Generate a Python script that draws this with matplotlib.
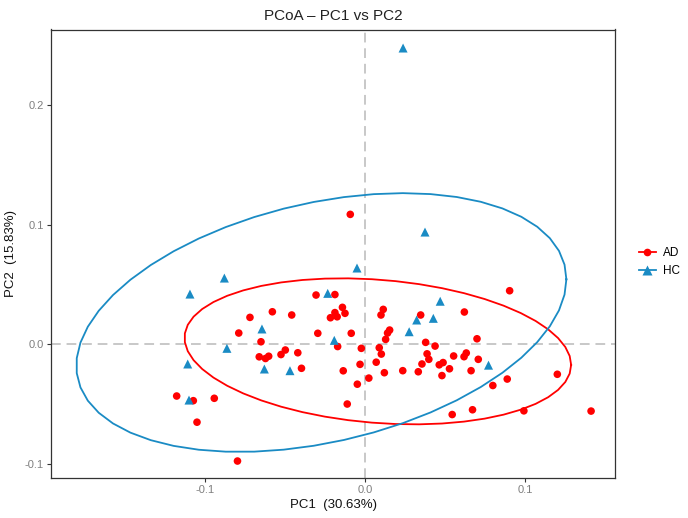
import numpy as np
import matplotlib
matplotlib.use("Agg")
import matplotlib.pyplot as plt
from matplotlib.lines import Line2D

plt.rcParams['font.family'] = ['Liberation Sans', 'DejaVu Sans']

# ---- data (PC1, PC2) ----
groups = ["AD", "HC"]
colors = {"AD": "#FF0000", "HC": "#1A8BC4"}

ad_pc1 = [-0.0092, -0.0306, -0.0188, -0.0141, -0.0188, -0.0125, -0.0216, -0.0174, -0.0458, -0.0719,
          -0.0579, -0.0789, -0.0650, -0.0661, -0.0622, -0.0602, -0.0525, -0.0498, -0.0420, -0.0397,
          -0.1177, -0.0942, -0.1073, -0.1050, -0.0797, 0.0114, 0.0100, 0.0348, 0.0621, 0.0904,
          0.0154, 0.0141, 0.0129, -0.0295, -0.0086, -0.0171, -0.0023, 0.0089, 0.0102, 0.0070,
          -0.0031, -0.0136, 0.0121, 0.0024, -0.0048, -0.0111, 0.0236, 0.0333, 0.0356, 0.0379,
          0.0438, 0.0388, 0.0399, 0.0464, 0.0488, 0.0481, 0.0528, 0.0554, 0.0619, 0.0633,
          0.0700, 0.0708, 0.0663, 0.0799, 0.0889, 0.1202, 0.0545, 0.0672, 0.0993, 0.1413]
ad_pc2 = [0.1085, 0.0410, 0.0414, 0.0307, 0.0263, 0.0257, 0.0220, 0.0228, 0.0243, 0.0223,
          0.0270, 0.0092, 0.0019, -0.0107, -0.0121, -0.0102, -0.0088, -0.0050, -0.0073, -0.0203,
          -0.0435, -0.0454, -0.0474, -0.0654, -0.0979, 0.0290, 0.0243, 0.0243, 0.0268, 0.0446,
          0.0117, 0.0092, 0.0039, 0.0090, 0.0090, -0.0021, -0.0036, -0.0031, -0.0084, -0.0152,
          -0.0170, -0.0224, -0.0240, -0.0285, -0.0336, -0.0502, -0.0223, -0.0232, -0.0167, 0.0014,
          -0.0017, -0.0082, -0.0128, -0.0174, -0.0155, -0.0264, -0.0207, -0.0100, -0.0106, -0.0075,
          0.0044, -0.0128, -0.0223, -0.0347, -0.0293, -0.0253, -0.0590, -0.0550, -0.0559, -0.0561]

hc_pc1 = [0.0238, 0.0375, -0.0879, -0.1094, -0.0050, -0.0233, -0.0644, -0.0863, -0.1108,
          -0.0629, -0.0469, -0.0192, 0.0276, 0.0323, 0.0427, 0.0470, 0.0772, -0.1100]
hc_pc2 = [0.2477, 0.0937, 0.0552, 0.0418, 0.0636, 0.0424, 0.0126, -0.0036, -0.0167,
          -0.0209, -0.0223, 0.0031, 0.0103, 0.0201, 0.0215, 0.0358, -0.0177, -0.0469]

xticks = [-0.1, 0.0, 0.1]
yticks = [-0.1, 0.0, 0.1, 0.2]
xtick_labels = ["-0.1", "0.0", "0.1"]
ytick_labels = ["-0.1", "0.0", "0.1", "0.2"]
title = "PCoA \u2013 PC1 vs PC2"
xlabel = "PC1  (30.63%)"
ylabel = "PC2  (15.83%)"


def cov_trob(x, nu=5, maxit=25, tol=0.01):
    n, p = x.shape
    wt = np.ones(n)
    loc = x.mean(axis=0)
    w = np.sqrt(wt)
    for _ in range(maxit):
        w0 = w
        X = x - loc
        A = np.sqrt(w / w.sum())[:, None] * X
        _, d, vt = np.linalg.svd(A, full_matrices=False)
        wX = X @ vt.T @ np.diag(1.0 / d)
        Q = (wX ** 2).sum(axis=1)
        w = wt * (nu + p) / (nu + Q)
        loc = (w[:, None] * x).sum(axis=0) / w.sum()
        if np.all(np.abs(w - w0) < tol):
            break
    cov = (np.sqrt(w)[:, None] * X).T @ (np.sqrt(w)[:, None] * X) / wt.sum()
    return loc, cov


def ellipse_pts(x, y, level=0.95, segments=51):
    data = np.column_stack([x, y])
    n = len(x)
    center, shape = cov_trob(data)
    dfd = n - 1
    qf = (dfd / 2.0) * ((1 - level) ** (-2.0 / dfd) - 1)
    radius = np.sqrt(2 * qf)
    chol = np.linalg.cholesky(shape).T  # upper triangular like R chol
    ang = np.linspace(0, 2 * np.pi, segments + 1)
    uc = np.column_stack([np.cos(ang), np.sin(ang)])
    e = center + radius * (uc @ chol)
    return e[:, 0], e[:, 1]


fig = plt.figure(figsize=(6.88, 5.18), dpi=100)
ax = fig.add_axes([51 / 688, 1 - 478 / 518, (615 - 51) / 688, (478 - 29.5) / 518])

ax.axvline(0, color="#C8C8C8", lw=1.4, ls=(0, (5, 3)), zorder=1)
ax.axhline(0, color="#C8C8C8", lw=1.4, ls=(0, (5, 3)), zorder=1)

series = {"AD": (ad_pc1, ad_pc2, "o", 30), "HC": (hc_pc1, hc_pc2, "^", 42)}
for g in groups:
    px, py, mk, sz = series[g]
    ax.scatter(px, py, marker=mk, s=sz, color=colors[g], edgecolors="none", zorder=3)
    ex, ey = ellipse_pts(np.array(px), np.array(py))
    ax.plot(ex, ey, color=colors[g], lw=1.3, zorder=2)

ax.set_xlim(-0.19625, 0.15625)
ax.set_ylim(-0.1121, 0.2632)
ax.set_xticks(xticks)
ax.set_xticklabels(xtick_labels)
ax.set_yticks(yticks)
ax.set_yticklabels(ytick_labels)
ax.tick_params(direction="out", length=3, width=0.8, color="#333333", labelcolor="#7F7F7F", labelsize=8, pad=2)
for s in ax.spines.values():
    s.set_color("#333333")
    s.set_linewidth(0.9)

ax.set_title(title, fontsize=11, color="#222222", pad=7)
ax.set_xlabel(xlabel, fontsize=9.5, color="#111111", labelpad=3)
ax.set_ylabel(ylabel, fontsize=9.5, color="#111111", labelpad=6)

handles = [Line2D([0], [0], color=colors["AD"], marker="o", ms=5.5, lw=1.3, mec="none"),
           Line2D([0], [0], color=colors["HC"], marker="^", ms=6.5, lw=1.3, mec="none")]
fig.legend(handles, groups, loc="center left", bbox_to_anchor=(628 / 688, 1 - 262 / 518),
           frameon=False, fontsize=8.5, handlelength=1.5, labelspacing=0.55, handletextpad=0.6)

fig.savefig("out.png", dpi=100)
